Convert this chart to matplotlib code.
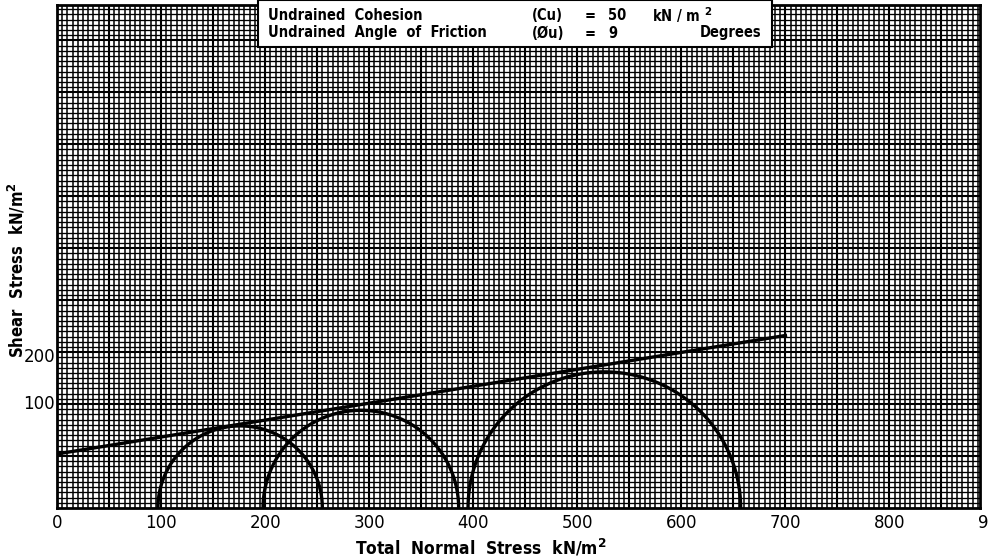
import numpy as np
from matplotlib import pyplot as plt
from matplotlib.patches import Rectangle

# Mohr circles (kN/m2)
circle_left = [97, 198, 395]
circle_right = [255, 386, 657]

# failure envelope end points
env_x = [0, 700]
env_y = [52, 166]

x_ticks = [0, 100, 200, 300, 400, 500, 600, 700, 800, 900]
y_ticks = [100, 145]
y_tick_labels = ["100", "200"]

W, H = 989, 560
fig = plt.figure(figsize=(W / 100, H / 100), dpi=100)
ax = fig.add_axes([57 / W, (H - 508) / H, (980 - 57) / W, (508 - 5) / H])

ax.set_xlim(0, 887)
ax.set_ylim(0, 484)

# graph paper grid
for v in np.arange(5, 887, 5):
    ax.axvline(v, color="k", lw=1.5 if v % 50 == 0 else 1.1, zorder=1)
for v in np.arange(5, 484, 5):
    ax.axhline(v, color="k", lw=1.5 if v % 50 == 0 else 0.95, zorder=1)

for s in ax.spines.values():
    s.set_linewidth(2)

# Mohr circles (upper halves)
t = np.linspace(0, np.pi, 300)
for a, b in zip(circle_left, circle_right):
    c = (a + b) / 2
    r = (b - a) / 2
    ax.plot(c + r * np.cos(t), r * np.sin(t), color="k", lw=2.4, zorder=3)

# failure envelope
ax.plot(env_x, env_y, color="k", lw=2.4, zorder=3)

ax.set_xticks([])
ax.set_yticks([])

tick_font = dict(family="DejaVu Sans", fontsize=12)
for v in x_ticks:
    ax.text(v, -14, str(v), ha="center", va="center", clip_on=False, **tick_font)
for v, lab in zip(y_ticks, y_tick_labels):
    ax.text(-2, v, lab, ha="right", va="center", clip_on=False, **tick_font)

cond = dict(family="DejaVu Sans", fontstretch="condensed", fontweight="bold")
fig.text(481 / W, 1 - 548 / H, "Total  Normal  Stress  kN/m$^\\mathbf{2}$",
         ha="center", va="center", fontsize=12.5, **cond)
fig.text(17 / W, 1 - 270 / H, "Shear  Stress  kN/m$^\\mathbf{2}$", rotation=90,
         ha="center", va="center", fontsize=12, **cond)

# parameter box
fig.add_artist(Rectangle((258 / W, 1 - 47 / H), (772 - 258) / W, 47 / H,
                         transform=fig.transFigure, facecolor="white",
                         edgecolor="k", lw=1.5, zorder=5))
box_font = dict(fontsize=10.5, va="center", zorder=6, **cond)
rows = [
    (15, ["Undrained  Cohesion", "(Cu)", "=", "50", "kN / m $^\\mathbf{2}$"]),
    (33, ["Undrained  Angle  of  Friction", "(Øu)", "=", "9", "Degrees"]),
]
cols = [268, 532, 585, 608, 652]
for y, items in rows:
    for x, s in zip(cols, items):
        if s == "Degrees":
            x = 700
        fig.text(x / W, 1 - y / H, s, **box_font)

fig.savefig("out.png", dpi=100)
